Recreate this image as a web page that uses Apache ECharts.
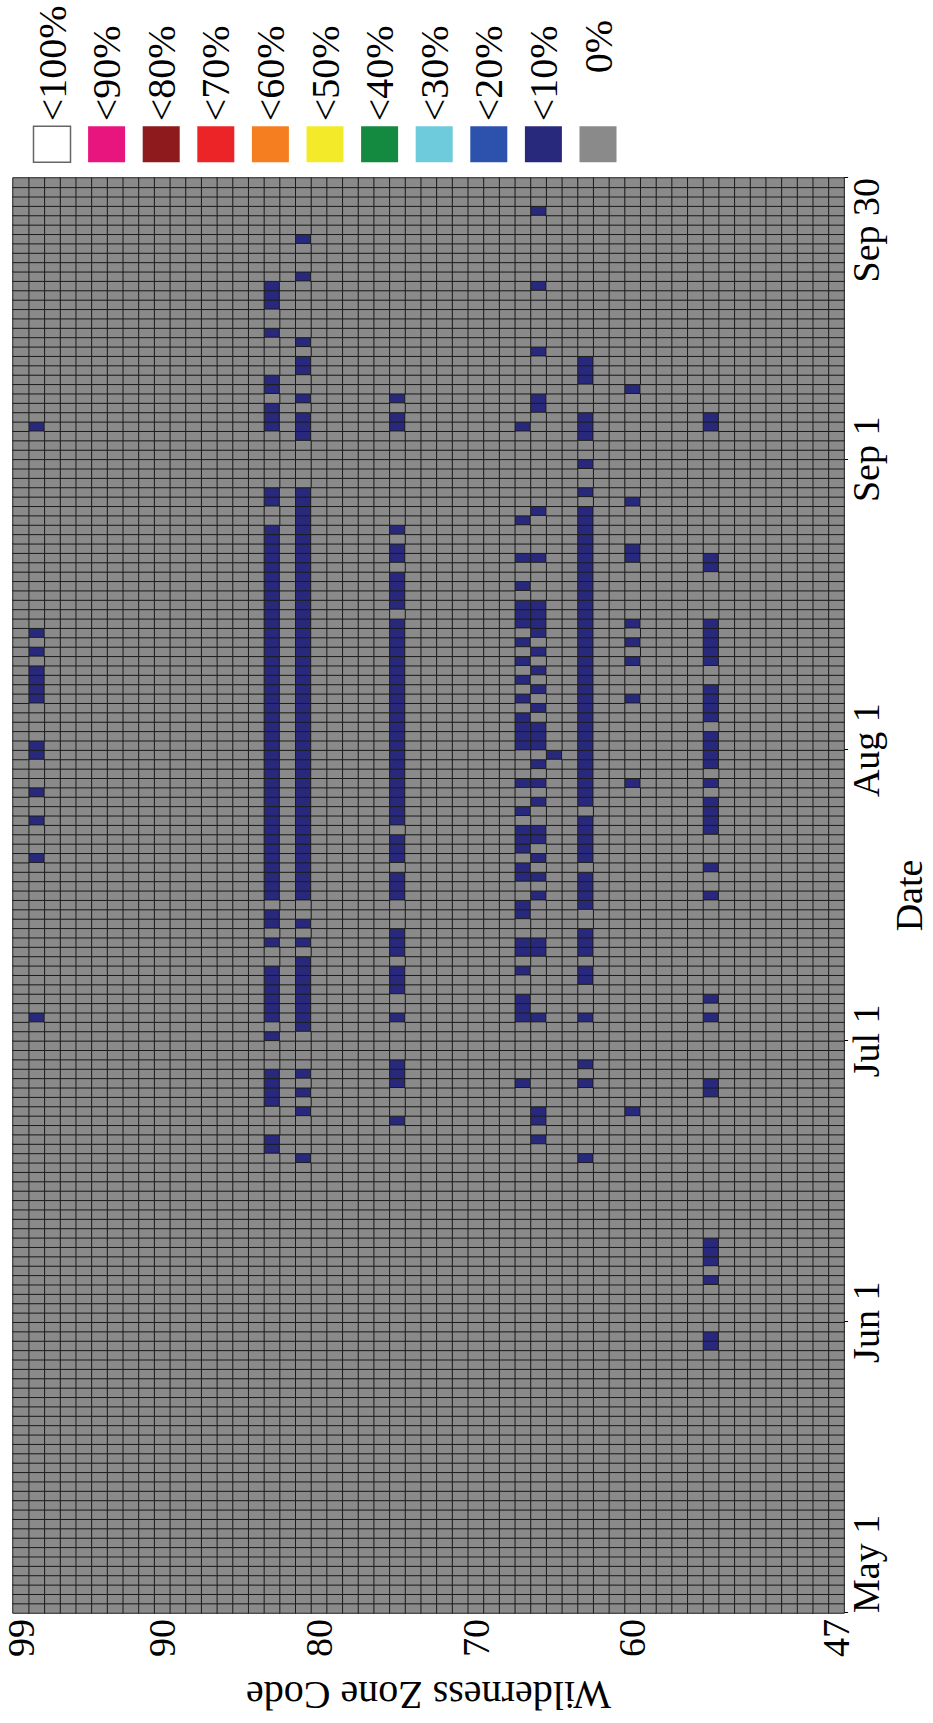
<!DOCTYPE html>
<html><head><meta charset="utf-8">
<script src="https://cdn.jsdelivr.net/npm/echarts@6/dist/echarts.min.js"></script>
<style>
html,body{margin:0;padding:0;overflow:hidden;background:#fff;width:933px;height:1723px;}
#main{position:absolute;left:0;top:0;width:1723px;height:933px;transform-origin:0 0;transform:translate(0,1723px) rotate(-90deg);}
</style></head><body><div id="main"></div>
<script>
// ---- categories / ticks ----
const monthNames = ['May', 'Jun', 'Jul', 'Aug', 'Sep'];
const monthLengths = [31, 30, 31, 31, 30];
const zoneFirst = 47, zoneLast = 99;
const dateTickDays = [0, 31, 61, 92, 123, 153];
const dateTickLabels = ['May 1', 'Jun 1', 'Jul 1', 'Aug 1', 'Sep 1', 'Sep 30'];
const zoneLabelCodes = [99, 90, 80, 70, 60, 47];
const zoneTickCodes = [95, 85, 75, 65, 55, 50];
const classNames = ['<100%', '<90%', '<80%', '<70%', '<60%', '<50%', '<40%', '<30%', '<20%', '<10%', '0%'];
const classColors = ['#ffffff', '#e9157e', '#8e1a1d', '#ec2427', '#f47e20', '#f3ea2a', '#138a3f', '#6ecbdc', '#2c52ad', '#28297d', '#8a8a8a'];

// ---- "<10%" cells: day index (0 = May 1) per zone ----
const zone98Days = [63, 80, 84, 87, 91, 92, 97, 98, 99, 100, 102, 104, 126];
const zone83Days = [49, 50, 54, 55, 56, 57, 61, 63, 64, 65, 66, 67, 68, 71, 73, 74, 76, 77, 78, 79, 80, 81, 82, 83, 84, 85, 86, 87, 88, 89, 90, 91, 92, 93, 94, 95, 96, 97, 98, 99, 100, 101, 102, 103, 104, 105, 106, 107, 108, 109, 110, 111, 112, 113, 114, 115, 118, 119, 126, 127, 128, 130, 131, 136, 139, 140, 141];
const zone81Days = [48, 53, 55, 57, 62, 63, 64, 65, 66, 67, 68, 69, 71, 73, 76, 77, 78, 79, 80, 81, 82, 83, 84, 85, 86, 87, 88, 89, 90, 91, 92, 93, 94, 95, 96, 97, 98, 99, 100, 101, 102, 103, 104, 105, 106, 107, 108, 109, 110, 111, 112, 113, 114, 115, 116, 117, 118, 119, 125, 126, 127, 129, 132, 133, 135, 142, 146];
const zone75Days = [52, 56, 57, 58, 63, 66, 67, 68, 70, 71, 72, 76, 77, 78, 80, 81, 82, 84, 85, 86, 87, 88, 89, 90, 91, 92, 93, 94, 95, 96, 97, 98, 99, 100, 101, 102, 103, 104, 105, 107, 108, 109, 110, 112, 113, 115, 126, 127, 129];
const zone67Days = [56, 63, 64, 65, 68, 70, 71, 74, 75, 78, 79, 81, 82, 83, 85, 88, 92, 93, 94, 95, 97, 99, 101, 103, 105, 106, 107, 109, 112, 116, 126];
const zone66Days = [50, 52, 53, 63, 70, 71, 76, 78, 80, 82, 83, 86, 88, 90, 92, 93, 94, 96, 98, 100, 102, 104, 105, 106, 107, 112, 117, 128, 129, 134, 141, 149];
const zone65Days = [91];
const zone63Days = [48, 56, 58, 63, 67, 68, 70, 71, 72, 75, 76, 77, 78, 80, 81, 82, 83, 84, 86, 87, 88, 89, 90, 91, 92, 93, 94, 95, 96, 97, 98, 99, 100, 101, 102, 103, 104, 105, 106, 107, 108, 109, 110, 111, 112, 113, 114, 115, 116, 117, 119, 122, 125, 126, 127, 131, 132, 133];
const zone60Days = [53, 88, 97, 101, 103, 105, 112, 113, 118, 130];
const zone55Days = [28, 29, 35, 37, 38, 39, 55, 56, 63, 65, 76, 79, 83, 84, 85, 86, 88, 90, 91, 92, 93, 95, 96, 97, 98, 101, 102, 103, 104, 105, 111, 112, 126, 127];
const lowZones = [98, 83, 81, 75, 67, 66, 65, 63, 60, 55];
const lowZoneDays = [zone98Days, zone83Days, zone81Days, zone75Days, zone67Days, zone66Days, zone65Days, zone63Days, zone60Days, zone55Days];

// ---- build categories and cells ----
const dates = [];
monthNames.forEach((m, i) => { for (let d = 1; d <= monthLengths[i]; d++) dates.push(m + ' ' + d); });
const zones = [];
for (let z = zoneFirst; z <= zoneLast; z++) zones.push(String(z));

const lowSet = new Set();
lowZones.forEach((z, i) => lowZoneDays[i].forEach(d => lowSet.add(d + '_' + z)));
const grayCells = [], lowCells = [];
for (let d = 0; d < dates.length; d++) {
  for (let zi = 0; zi < zones.length; zi++) {
    const z = zoneFirst + zi;
    if (lowSet.has(d + '_' + z)) lowCells.push([d, zi, 1]); else grayCells.push([d, zi, 0]);
  }
}

const FONT = '"Liberation Serif", "Times New Roman", Times, serif';
const series = classNames.map((name, i) => ({
  name: name,
  type: 'heatmap',
  xAxisIndex: 0, yAxisIndex: 0,
  progressive: 0,
  animation: false,
  emphasis: { disabled: true },
  itemStyle: { color: classColors[i], borderColor: '#1c1c1c', borderWidth: 1 },
  data: name === '0%' ? grayCells : (name === '<10%' ? lowCells : [])
}));

const legendData = classNames.map(name => {
  const item = { name: name };
  if (name === '<100%') item.itemStyle = { borderColor: '#666', borderWidth: 1.5 };
  if (name === '0%') item.textStyle = { padding: [0, 0, 0, 48] };
  return item;
});

const chart = echarts.init(document.getElementById('main'), null, { renderer: 'svg' });
chart.setOption({
  animation: false,
  backgroundColor: '#fff',
  textStyle: { fontFamily: FONT },
  grid: { left: 110, right: 178, top: 13, bottom: 67, containLabel: false },
  legend: {
    orient: 'vertical', left: 1555, top: 27,
    itemWidth: 36, itemHeight: 37, itemGap: 14.6,
    icon: 'rect', selectedMode: false,
    itemStyle: { borderWidth: 0 },
    textStyle: { fontFamily: FONT, fontSize: 40, color: '#000', lineHeight: 37 },
    data: legendData
  },
  xAxis: [
    { type: 'category', data: dates, position: 'top', show: false, boundaryGap: true },
    {
      type: 'value', min: 0, max: 153, position: 'bottom',
      axisLine: { show: false }, splitLine: { show: false },
      axisTick: { show: true, customValues: dateTickDays, length: 4, lineStyle: { color: '#000' } },
      axisLabel: {
        customValues: dateTickDays,
        formatter: v => dateTickLabels[dateTickDays.indexOf(v)],
        alignMinLabel: 'left', alignMaxLabel: 'right',
        fontFamily: FONT, fontSize: 38, color: '#000', margin: 3
      },
      name: 'Date', nameLocation: 'middle', nameGap: 24,
      nameTextStyle: { fontFamily: FONT, fontSize: 38, color: '#000' }
    }
  ],
  yAxis: [{
    type: 'category', data: zones,
    axisLine: { show: false }, splitLine: { show: false },
    axisTick: { alignWithLabel: true, interval: (i, v) => zoneTickCodes.includes(+v), length: 6, lineStyle: { color: '#000' } },
    axisLabel: { interval: (i, v) => zoneLabelCodes.includes(+v), fontFamily: FONT, fontSize: 38, color: '#000', margin: 6 },
    name: 'Wilderness Zone Code', nameLocation: 'middle', nameGap: 62, nameRotate: 90,
    nameTextStyle: { fontFamily: FONT, fontSize: 40, color: '#000' }
  }],
  series: series
});
</script></body></html>
